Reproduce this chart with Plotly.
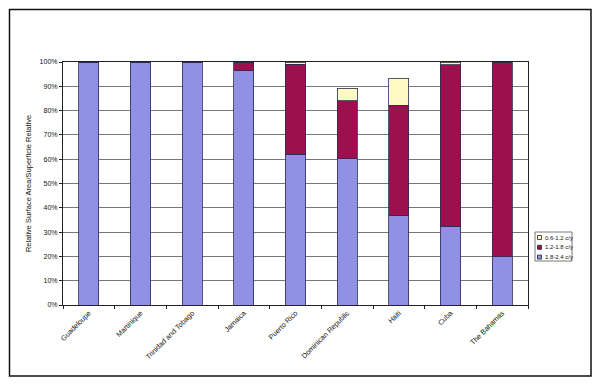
import plotly.graph_objects as go

countries = ["Guadeloupe", "Martinique", "Trinidad and Tobago", "Jamaica", "Puerto Rico",
             "Dominican Republic", "Haiti", "Cuba", "The Bahamas"]
s_18_24 = [100, 100, 100, 96.3, 62.0, 60.2, 36.7, 32.5, 19.8]
s_12_18 = [0, 0, 0, 3.7, 37.0, 23.8, 45.6, 66.3, 80.2]
s_06_12 = [0, 0, 0, 0, 0.8, 5.2, 11.0, 1.2, 0]

series = [
    ("1.8-2.4 c/y", s_18_24, "#9090e4"),
    ("1.2-1.8 c/y", s_12_18, "#9c104e"),
    ("0.6-1.2 c/y", s_06_12, "#fff9c4"),
]

fig = go.Figure()
for name, vals, col in series:
    fig.add_trace(go.Bar(x=countries, y=vals, name=name, width=0.39, showlegend=False,
                         marker=dict(color=col, line=dict(color="#2a2a55", width=0.8))))

# page body has an 8px margin, so figure coordinates are offset by 8px
W, H = 584, 370
L, R, T, B = 55, 520, 54, 297
pw, ph = R - L, B - T

def px(x):
    return (x - L) / pw

def py(y):
    return (B - y) / ph

fig.update_layout(
    width=W, height=H, barmode="stack",
    margin=dict(l=L, r=W - R, t=T, b=H - B, pad=0),
    paper_bgcolor="white", plot_bgcolor="white",
    font=dict(family="Liberation Sans, Arial", size=7, color="#111"),
    showlegend=False,
    xaxis=dict(showline=True, linecolor="#222", linewidth=1.2, mirror=True,
               tickangle=-45, ticks="outside", ticklen=3, tickcolor="#222",
               tickson="boundaries", showgrid=False, tickfont=dict(size=7.2)),
    yaxis=dict(range=[0, 100], dtick=10, ticksuffix="%", showline=True, linecolor="#222",
               linewidth=1.2, mirror=True, showgrid=True, gridcolor="#777", gridwidth=1,
               ticks="outside", ticklen=3, tickcolor="#222", tickfont=dict(size=7),
               title=dict(text="Relative Surface Area/Superficie Relative", font=dict(size=7.5),
                          standoff=6)),
)

# outer frame
fig.add_shape(type="rect", xref="paper", yref="paper",
              x0=px(1.5), x1=px(583), y0=py(368), y1=py(1.5),
              line=dict(color="#111", width=1.5), fillcolor="rgba(0,0,0,0)", layer="below")

# compact legend (Excel style)
fig.add_shape(type="rect", xref="paper", yref="paper",
              x0=px(527), x1=px(564), y0=py(253), y1=py(224),
              line=dict(color="#555", width=0.8), fillcolor="white")
for i, (name, vals, col) in enumerate(reversed(series)):
    yc = 229.5 + i * 9.8
    fig.add_shape(type="rect", xref="paper", yref="paper",
                  x0=px(529.5), x1=px(533.5), y0=py(yc + 2), y1=py(yc - 2),
                  line=dict(color="#222", width=0.8), fillcolor=col)
    fig.add_annotation(xref="paper", yref="paper", x=px(535), y=py(yc), text=name,
                       showarrow=False, xanchor="left", yanchor="middle",
                       font=dict(size=6, color="#111"))

fig.write_html("out.html")
